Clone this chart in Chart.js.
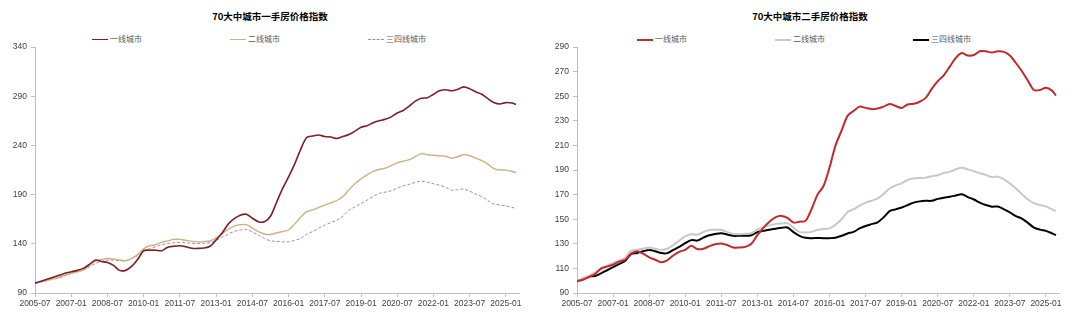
<!DOCTYPE html>
<html>
<head>
<meta charset="utf-8">
<script src="https://cdn.jsdelivr.net/npm/chart.js@4/dist/chart.umd.min.js"></script>
<style>
  body { margin: 0; background: #fff; width: 1080px; height: 323px; overflow: hidden; position: relative; }
  .panel { position: absolute; top: 0; width: 540px; height: 323px; }
  .panel canvas { position: absolute; left: 0; top: 0; }
  .title { position: absolute; top: 9px; left: 0; width: 540px; text-align: center;
           font: bold 9.5px "Noto Sans CJK SC", sans-serif; color: #000; }
  .legend { position: absolute; top: 33px; white-space: nowrap;
            font: 8px "Noto Sans CJK SC", sans-serif; color: #595959; }
  .legend span.item { display: inline-block; width: 138px; }
  .legend i { display: inline-block; vertical-align: middle; margin-right: 2px; border-top-width: 2px; border-top-style: solid; }
</style>
</head>
<body>
<div class="panel" style="left:0">
  <div class="title">70大中城市一手房价格指数</div>
  <div class="legend" id="legendNew" style="left:92px"></div>
  <canvas id="chartNew" width="540" height="323"></canvas>
</div>
<div class="panel" style="left:540px">
  <div class="title">70大中城市二手房价格指数</div>
  <div class="legend" id="legendResale" style="left:97px"></div>
  <canvas id="chartResale" width="540" height="323"></canvas>
</div>
<script>
// quarterly readings, last one is the latest month
var months = [
    '2005-07', '2005-10', '2006-01', '2006-04', '2006-07', '2006-10', '2007-01', '2007-04', '2007-07', '2007-10',
    '2008-01', '2008-04', '2008-07', '2008-10', '2009-01', '2009-04', '2009-07', '2009-10', '2010-01', '2010-04',
    '2010-07', '2010-10', '2011-01', '2011-04', '2011-07', '2011-10', '2012-01', '2012-04', '2012-07', '2012-10',
    '2013-01', '2013-04', '2013-07', '2013-10', '2014-01', '2014-04', '2014-07', '2014-10', '2015-01', '2015-04',
    '2015-07', '2015-10', '2016-01', '2016-04', '2016-07', '2016-10', '2017-01', '2017-04', '2017-07', '2017-10',
    '2018-01', '2018-04', '2018-07', '2018-10', '2019-01', '2019-04', '2019-07', '2019-10', '2020-01', '2020-04',
    '2020-07', '2020-10', '2021-01', '2021-04', '2021-07', '2021-10', '2022-01', '2022-04', '2022-07', '2022-10',
    '2023-01', '2023-04', '2023-07', '2023-10', '2024-01', '2024-04', '2024-07', '2024-10', '2025-01', '2025-04',
    '2025-06'
];

var xTickLabels = ['2005-07', '2007-01', '2008-07', '2010-01', '2011-07', '2013-01', '2014-07',
    '2016-01', '2017-07', '2019-01', '2020-07', '2022-01', '2023-07', '2025-01'];

var seriesNames = ['一线城市', '二线城市', '三四线城市'];

// new homes
var newTier1 = [
    100, 102, 104, 106, 108, 110, 111.5, 113, 115, 119,
    123.5, 122, 121, 118, 113, 113, 117, 124, 133, 133.5,
    133.5, 133, 136.5, 137.5, 138, 137, 135.5, 135.3, 135.7, 137.5,
    144, 151, 160, 165.5, 169, 170, 166, 162.4, 162.4, 168,
    182, 196, 208, 221, 236, 248, 249.5, 250.5, 249, 248.5,
    247, 249, 251, 254.5, 258.5, 260, 263, 265, 266.5, 269,
    273, 275.5, 280, 285, 288, 288.5, 292, 295.5, 296.5, 295.5,
    297, 299.5, 297.5, 294.5, 292, 287.5, 283.5, 282, 283.5, 283,
    281.5
];
var newTier2 = [
    100, 101.5, 103, 104.5, 106, 108, 110, 111.5, 113.5, 118,
    122.5, 124, 125, 124.5, 123.5, 122.8, 125, 129, 135, 138,
    139, 141.5, 143, 144.5, 144.5, 143.5, 142.5, 142, 142.3, 142.8,
    146, 150, 155, 158, 159.5, 159.5, 156, 152.3, 150, 149.5,
    151, 152.5, 154, 160, 167, 172.6, 174.5, 177, 179.3, 181.5,
    184, 188, 195, 201, 206, 210, 213.5, 215.5, 216.8, 219.5,
    222.3, 224, 225.5, 228.5, 231.8, 230.5, 230, 229.5, 229, 227,
    228.5, 230.8, 229.5, 227, 224.5, 221, 216.5, 215, 214.9, 213.5,
    212.5
];
var newTier3 = [
    100, 101.2, 102.5, 104, 105.2, 107.5, 110, 111.5, 113.4, 116.5,
    120.1, 122, 123.5, 123.2, 122.8, 122.8, 125, 128, 132, 135.3,
    137, 139, 140.4, 141, 141.4, 141, 140.5, 140.4, 140.6, 141,
    143.5, 146.5, 150, 152.5, 154, 154.6, 152, 148.9, 145.5, 143,
    142.5, 142, 142, 143.5, 145.5, 149.6, 152.5, 156, 159, 161.5,
    164, 168, 174, 177.6, 181, 184.4, 188, 191.2, 192.5, 193.9,
    196.5, 199, 200.3, 202.5, 203.7, 202.5, 201, 199.5, 197.5, 194.5,
    195, 195.6, 193.5, 190.5, 188, 184, 180.5, 179.5, 178.5, 177,
    176
];

// second-hand homes
var resaleTier1 = [
    99.5, 100.8, 103, 105.4, 110, 111.5, 113, 115.5, 117, 122,
    124, 122, 119, 117, 115, 116.5, 120.5, 123.5, 125.1, 128.4,
    125.7, 126, 128, 129.7, 130.3, 129, 127, 127, 127.5, 130,
    137, 143, 148, 151.5, 152.7, 151, 147.3, 148, 148.6, 158,
    170, 177, 192, 210, 222, 234, 238, 241.5, 240.5, 239.5,
    240, 241.5, 243.7, 242, 240.5, 243.2, 243.8, 245.5, 248.6, 256,
    262.2, 267, 274, 281.1, 285.1, 283, 283.5, 286.5, 286.5, 285.5,
    286.5, 286, 283, 277, 270.3, 262.5, 255, 255, 256.8, 254.5,
    250.5
];
var resaleTier2 = [
    99.5, 101.5, 104, 106.8, 109, 112, 114.5, 116.5, 118.5, 124.5,
    125.1, 126, 127, 126, 125.1, 126, 129, 132.5, 136, 137.8,
    137.3, 139.5, 141.3, 141.4, 141.4, 139.5, 138, 137.8, 138.2, 138.6,
    141.5, 143.5, 145, 146, 146.5, 146.8, 143, 139.7, 139.2, 139.7,
    141.2, 142, 142.5, 145.5, 150, 155.9, 158.1, 161, 163.5, 165,
    167, 170.5, 175, 177.5, 179.2, 182, 183.2, 183.5, 183.8, 185,
    185.8, 187.5, 188.5, 190.5, 191.9, 190.5, 189, 187.3, 186, 184.2,
    184.6, 182.5, 179, 175, 170.3, 166, 163, 161.5, 160.3, 158,
    156.8
];
var resaleTier3 = [
    99.5, 101.5, 103.5, 103.8, 106, 108.5, 111, 113.5, 116, 121.6,
    122.5, 124, 125, 124, 122.5, 122.4, 125, 127.5, 130.5, 133,
    132.6, 135, 137, 138, 138.6, 137.5, 136.5, 136.5, 136.5, 137,
    139.5, 140.5, 141.5, 142.3, 143, 143.2, 139.5, 136.5, 134.9, 134.6,
    134.7, 134.6, 134.6, 135, 136.5, 138.4, 139.7, 142.5, 144.5, 146,
    147.5, 151.5, 156.5, 158, 159.5, 161.5, 163.5, 164.5, 164.9, 165,
    166.5, 167.5, 168.3, 169.3, 170.3, 168, 166, 163.5, 161.5, 160.2,
    160.3, 158, 155.5, 152.5, 150.5, 147, 143.2, 141.5, 140.5, 138.5,
    137
];

Chart.defaults.font.family = '"Liberation Sans", Arial, sans-serif';
Chart.defaults.font.size = 8.5;
Chart.defaults.color = '#404040';

// months since 2005-07
function monthIndex(s) {
    var p = s.split('-');
    return (parseInt(p[0], 10) - 2005) * 12 + parseInt(p[1], 10) - 7;
}

function toPoints(values) {
    return months.map(function (m, i) {
        return {x: monthIndex(m), y: values[i]};
    });
}

function makeChart(id, sets, yMin, yMax, yStep, axisWidth) {
    var ctx = document.getElementById(id).getContext('2d');
    return new Chart(ctx, {
        type: 'line',
        data: {
            datasets: sets.map(function (s, i) {
                return {
                    label: seriesNames[i],
                    data: toPoints(s.values),
                    borderColor: s.color,
                    backgroundColor: s.color,
                    borderWidth: s.width,
                    borderDash: s.dash || [],
                    pointRadius: 0,
                    tension: 0.3
                };
            })
        },
        options: {
            responsive: false,
            animation: false,
            layout: {padding: {top: 47, right: 21, bottom: 0, left: 0}},
            plugins: {legend: {display: false}, tooltip: {enabled: false}},
            scales: {
                x: {
                    type: 'linear',
                    min: 0,
                    max: 240.5,
                    afterFit: function (scale) { scale.height = 30; },
                    grid: {drawOnChartArea: false, color: '#bfbfbf', tickLength: 4},
                    border: {color: '#bfbfbf'},
                    ticks: {
                        stepSize: 18,
                        includeBounds: false,
                        autoSkip: false,
                        maxRotation: 0,
                        padding: 2,
                        callback: function (v) {
                            return xTickLabels[Math.round(v / 18)];
                        }
                    }
                },
                y: {
                    min: yMin,
                    max: yMax,
                    afterFit: function (scale) { scale.width = axisWidth; },
                    grid: {drawOnChartArea: false, color: '#bfbfbf', tickLength: 4},
                    border: {color: '#bfbfbf'},
                    ticks: {stepSize: yStep, padding: 4}
                }
            }
        }
    });
}

function buildLegend(id, chart) {
    var box = document.getElementById(id);
    chart.data.datasets.forEach(function (d) {
        var item = document.createElement('span');
        item.className = 'item';
        var swatch = document.createElement('i');
        swatch.style.width = '16px';
        swatch.style.borderTopColor = d.borderColor;
        swatch.style.borderTopWidth = Math.max(1, d.borderWidth) + 'px';
        if (d.borderDash.length) swatch.style.borderTopStyle = 'dashed';
        item.appendChild(swatch);
        item.appendChild(document.createTextNode(d.label));
        box.appendChild(item);
    });
}

var newChart = makeChart('chartNew', [
    {values: newTier1, color: '#7e1e26', width: 1.6},
    {values: newTier2, color: '#cdb182', width: 1.4},
    {values: newTier3, color: '#8e93aa', width: 1, dash: [3, 2]}
], 90, 340, 50, 35);

var resaleChart = makeChart('chartResale', [
    {values: resaleTier1, color: '#c22a2a', width: 2},
    {values: resaleTier2, color: '#c8c8c8', width: 2},
    {values: resaleTier3, color: '#000000', width: 2}
], 90, 290, 20, 37);

buildLegend('legendNew', newChart);
buildLegend('legendResale', resaleChart);
</script>
</body>
</html>
